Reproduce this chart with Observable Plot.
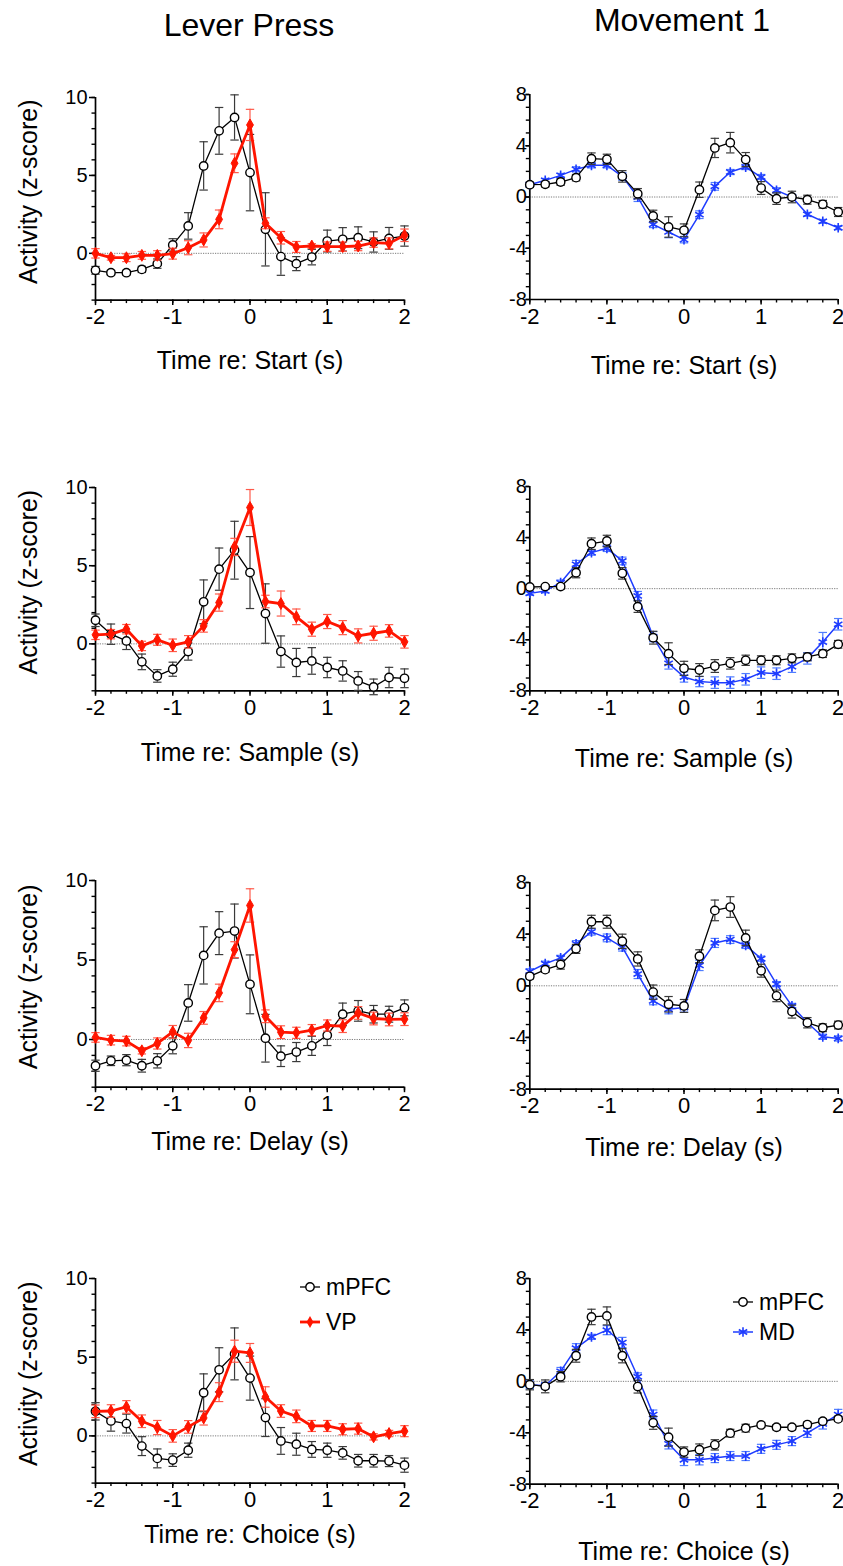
<!DOCTYPE html>
<html><head><meta charset="utf-8">
<script src="https://cdn.jsdelivr.net/npm/d3@7"></script>
<script src="https://cdn.jsdelivr.net/npm/@observablehq/plot@0.6"></script>
<style>
body{margin:0;background:#fff;}
#root{position:relative;width:843px;height:1566px;overflow:hidden;background:#fff;font-family:"Liberation Sans",Arial,sans-serif;color:#000;}
.title{position:absolute;font-size:32px;line-height:32px;white-space:nowrap;transform:translateX(-50%);}
.panel{position:absolute;}
.legend{position:absolute;font-size:23px;line-height:23px;white-space:nowrap;}
.legend .row{position:absolute;left:0;display:flex;align-items:center;}
.legend svg{overflow:visible;}
</style></head><body><div id="root"></div>
<script>
// ---------- data ----------
const times = [-2,-1.8,-1.6,-1.4,-1.2,-1,-0.8,-0.6,-0.4,-0.2,0,0.2,0.4,0.6,0.8,1,1.2,1.4,1.6,1.8,2];
const columnTitles = ["Lever Press", "Movement 1"];
const events = ["Start", "Sample", "Delay", "Choice"];
const yLabel = "Activity (z-score)";
const leftYTicks = [0, 5, 10];
const leftYMinor = [-3,-2,-1,0,1,2,3,4,5,6,7,8,9,10];
const rightYTicks = [-8, -4, 0, 4, 8];
const rightYMinor = [-8,-7,-6,-5,-4,-3,-2,-1,0,1,2,3,4,5,6,7,8];
const xTicks = [-2, -1, 0, 1, 2];
const xMinor = times;
const leftYDomain = [-3, 10];
const rightYDomain = [-8, 8];
const xDomain = [-2, 2];

// Lever Press – Start
const lpStartMPFC = [-1.09,-1.24,-1.24,-1.03,-0.66,0.54,1.76,5.61,7.86,8.72,5.18,1.54,-0.21,-0.66,-0.24,0.79,0.9,1.0,0.73,0.96,1.11];
const lpStartMPFCsem = [0.25,0.15,0.15,0.2,0.3,0.4,0.85,1.55,1.5,1.45,2.45,2.35,1.2,0.45,0.5,0.7,0.75,0.7,0.65,0.7,0.65];
const lpStartVP = [0.0,-0.28,-0.28,-0.13,-0.13,-0.02,0.36,0.86,2.18,5.78,8.24,1.93,1.0,0.41,0.47,0.43,0.43,0.47,0.69,0.64,1.16];
const lpStartVPsem = [0.3,0.15,0.25,0.25,0.3,0.35,0.45,0.45,0.6,0.6,1.0,0.35,0.4,0.35,0.15,0.3,0.3,0.3,0.3,0.35,0.4];
// Movement 1 – Start
const mvStartMPFC = [0.96,0.99,1.17,1.51,2.99,2.94,1.61,0.26,-1.48,-2.34,-2.6,0.57,3.83,4.24,2.92,0.7,-0.13,0.0,-0.21,-0.57,-1.17];
const mvStartMPFCsem = [0.2,0.2,0.25,0.25,0.45,0.4,0.45,0.4,0.45,0.8,0.5,0.6,0.75,0.8,0.55,0.5,0.45,0.45,0.35,0.3,0.35];
const mvStartMD = [0.96,1.3,1.69,2.16,2.47,2.47,1.61,0.0,-2.14,-2.73,-3.33,-1.38,0.83,1.95,2.34,1.56,0.52,0.0,-1.35,-1.9,-2.4];
const mvStartMDsem = [0.15,0.15,0.15,0.2,0.2,0.2,0.3,0.35,0.25,0.45,0.25,0.3,0.3,0.2,0.2,0.2,0.2,0.2,0.15,0.15,0.15];
// Lever Press – Sample
const lpSampleMPFC = [1.51,0.62,0.19,-1.15,-2.05,-1.62,-0.49,2.69,4.78,5.99,4.56,1.94,-0.49,-1.19,-1.09,-1.51,-1.73,-2.37,-2.75,-2.15,-2.2];
const lpSampleMPFCsem = [0.4,0.65,0.55,0.5,0.4,0.45,0.55,1.4,1.35,1.85,2.3,1.9,1.0,0.9,0.85,0.65,0.65,0.6,0.5,0.65,0.6];
const lpSampleVP = [0.58,0.62,0.94,-0.13,0.26,-0.09,0.13,1.15,2.64,6.2,8.72,2.71,2.58,1.73,0.94,1.43,1.04,0.51,0.68,0.83,0.13];
const lpSampleVPsem = [0.3,0.3,0.3,0.3,0.35,0.4,0.4,0.4,0.55,0.55,1.15,0.4,0.8,0.5,0.45,0.45,0.45,0.45,0.45,0.4,0.4];
// Movement 1 – Sample
const mvSampleMPFC = [0.13,0.16,0.16,1.25,3.52,3.73,1.2,-1.41,-3.84,-5.09,-6.24,-6.37,-6.06,-5.85,-5.61,-5.61,-5.61,-5.46,-5.35,-5.09,-4.36];
const mvSampleMPFCsem = [0.15,0.15,0.2,0.4,0.45,0.45,0.45,0.45,0.5,0.85,0.55,0.5,0.5,0.45,0.4,0.35,0.35,0.35,0.3,0.3,0.3];
const mvSampleMD = [-0.37,-0.18,0.47,1.91,2.82,3.16,2.17,-0.57,-3.76,-5.85,-6.92,-7.28,-7.36,-7.36,-7.1,-6.58,-6.66,-6.11,-5.46,-4.18,-2.79];
const mvSampleMDsem = [0.15,0.15,0.2,0.3,0.2,0.25,0.3,0.35,0.4,0.45,0.4,0.4,0.45,0.45,0.45,0.45,0.45,0.45,0.45,0.75,0.45];
// Lever Press – Delay
const lpDelayMPFC = [-1.65,-1.34,-1.3,-1.65,-1.34,-0.4,2.3,5.29,6.69,6.82,3.47,0.08,-1.05,-0.79,-0.4,0.27,1.59,1.8,1.59,1.59,1.99];
const lpDelayMPFCsem = [0.35,0.3,0.35,0.4,0.45,0.5,1.15,1.8,1.35,1.7,1.85,1.5,0.65,0.6,0.6,0.65,0.7,0.65,0.55,0.5,0.5];
const lpDelayVP = [0.13,-0.04,-0.1,-0.71,-0.25,0.48,-0.06,1.36,2.93,5.65,8.43,1.46,0.46,0.42,0.59,0.88,0.84,1.67,1.32,1.26,1.28];
const lpDelayVPsem = [0.3,0.3,0.3,0.2,0.35,0.4,0.45,0.4,0.55,0.5,1.05,0.4,0.4,0.35,0.35,0.35,0.4,0.4,0.4,0.4,0.4];
// Movement 1 – Delay
const mvDelayMPFC = [0.73,1.25,1.64,2.86,4.96,4.96,3.45,2.08,-0.49,-1.43,-1.56,2.29,5.84,6.1,3.71,1.17,-0.78,-2.0,-2.86,-3.25,-3.04];
const mvDelayMPFCsem = [0.2,0.2,0.35,0.35,0.5,0.5,0.55,0.55,0.55,0.6,0.5,0.5,0.8,0.8,0.6,0.5,0.45,0.5,0.4,0.3,0.3];
const mvDelayMD = [1.12,1.71,2.16,3.25,4.18,3.71,2.99,0.91,-1.17,-1.82,-1.69,1.58,3.32,3.58,3.14,2.1,0.13,-1.56,-2.86,-3.95,-4.08];
const mvDelayMDsem = [0.2,0.2,0.2,0.25,0.25,0.3,0.3,0.35,0.3,0.35,0.35,0.4,0.35,0.3,0.25,0.2,0.2,0.2,0.2,0.2,0.2];
// Lever Press – Choice
const lpChoiceMPFC = [1.56,0.95,0.78,-0.65,-1.43,-1.54,-0.91,2.74,4.2,5.21,3.67,1.16,-0.32,-0.53,-0.86,-0.91,-1.08,-1.58,-1.58,-1.6,-1.86];
const lpChoiceMPFCsem = [0.55,0.65,0.6,0.6,0.6,0.4,0.45,1.2,1.4,1.65,1.4,1.2,0.85,0.7,0.5,0.45,0.4,0.4,0.4,0.35,0.45];
const lpChoiceVP = [1.56,1.58,1.84,0.93,0.53,0.0,0.57,1.14,2.78,5.38,5.27,2.47,1.58,1.24,0.63,0.63,0.42,0.46,-0.06,0.15,0.3];
const lpChoiceVPsem = [0.4,0.4,0.4,0.4,0.45,0.4,0.4,0.45,0.6,0.7,0.6,0.65,0.4,0.4,0.35,0.35,0.35,0.35,0.2,0.2,0.35];
// Movement 1 – Choice
const mvChoiceMPFC = [-0.26,-0.39,0.36,1.99,5.01,5.09,1.99,-0.41,-3.23,-4.34,-5.5,-5.32,-4.94,-4.03,-3.64,-3.39,-3.57,-3.57,-3.36,-3.1,-2.92];
const mvChoiceMPFCsem = [0.4,0.5,0.4,0.5,0.6,0.7,0.55,0.5,0.5,0.7,0.4,0.45,0.4,0.3,0.3,0.2,0.2,0.2,0.2,0.2,0.2];
const mvChoiceMD = [-0.26,-0.34,0.78,2.58,3.46,3.98,3.02,0.36,-2.58,-4.86,-6.1,-6.1,-5.97,-5.81,-5.81,-5.25,-4.94,-4.65,-4.01,-3.31,-2.58];
const mvChoiceMDsem = [0.3,0.25,0.3,0.35,0.2,0.35,0.4,0.3,0.35,0.4,0.45,0.4,0.35,0.35,0.35,0.35,0.35,0.35,0.35,0.4,0.4];

const seriesNames = {mpfc: "mPFC", vp: "VP", md: "MD"};

// ---------- styles ----------
const cap = {draw(ctx, size) { const r = Math.sqrt(size / Math.PI); ctx.moveTo(-r, 0); ctx.lineTo(r, 0); }};
const styles = {
  mpfc: {color: "#000", err: "#3a3a3a", lw: 1.3, symbol: "circle", r: 4.2, fill: "#fff", sw: 1.4},
  vp:   {color: "#ff1500", err: "#ff5a4a", lw: 2.8, symbol: "diamond", r: 3.6, fill: "#ff1500", sw: 1},
  md:   {color: "#1e3cff", err: "#4f7dff", lw: 1.5, symbol: "asterisk", r: 4.6, fill: "none", sw: 1.6}
};

// layout (pixel geometry of each frame)
const cols = [
  {left: 0, width: 420, ml: 95, mr: 16, yDomain: leftYDomain, yTicks: leftYTicks, yMinor: leftYMinor, ySize: 6, yPad: 2, yLabel: true},
  {left: 420, width: 423, ml: 109.3, mr: 5.3, yDomain: rightYDomain, yTicks: rightYTicks, yMinor: rightYMinor, ySize: 4, yPad: -1, yLabel: false}
];
const rows = [
  [{top: 96.7, bottom: 299.3, xl: 61}, {top: 94.3, bottom: 299.3, xl: 66}],
  [{top: 486.7, bottom: 690, xl: 62}, {top: 485.7, bottom: 690, xl: 68}],
  [{top: 880, bottom: 1086.7, xl: 55}, {top: 881.7, bottom: 1088.3, xl: 59}],
  [{top: 1277.7, bottom: 1482.3, xl: 52}, {top: 1278.3, bottom: 1484, xl: 68}]
];
const panelSeries = [
  [[["mpfc", lpStartMPFC, lpStartMPFCsem], ["vp", lpStartVP, lpStartVPsem]], [["md", mvStartMD, mvStartMDsem], ["mpfc", mvStartMPFC, mvStartMPFCsem]]],
  [[["mpfc", lpSampleMPFC, lpSampleMPFCsem], ["vp", lpSampleVP, lpSampleVPsem]], [["md", mvSampleMD, mvSampleMDsem], ["mpfc", mvSampleMPFC, mvSampleMPFCsem]]],
  [[["mpfc", lpDelayMPFC, lpDelayMPFCsem], ["vp", lpDelayVP, lpDelayVPsem]], [["md", mvDelayMD, mvDelayMDsem], ["mpfc", mvDelayMPFC, mvDelayMPFCsem]]],
  [[["mpfc", lpChoiceMPFC, lpChoiceMPFCsem], ["vp", lpChoiceVP, lpChoiceVPsem]], [["md", mvChoiceMD, mvChoiceMDsem], ["mpfc", mvChoiceMPFC, mvChoiceMPFCsem]]]
];

function seriesMarks(key, vals, sems) {
  const s = styles[key];
  const data = times.map((t, i) => ({t, v: vals[i], lo: vals[i] - sems[i], hi: vals[i] + sems[i]}));
  return [
    Plot.ruleX(data, {x: "t", y1: "lo", y2: "hi", stroke: s.err, strokeWidth: 1.2}),
    Plot.dot(data, {x: "t", y: "lo", symbol: cap, r: 4.2, stroke: s.err, fill: "none", strokeWidth: 1.2}),
    Plot.dot(data, {x: "t", y: "hi", symbol: cap, r: 4.2, stroke: s.err, fill: "none", strokeWidth: 1.2}),
    Plot.line(data, {x: "t", y: "v", stroke: s.color, strokeWidth: s.lw}),
    Plot.dot(data, {x: "t", y: "v", symbol: s.symbol, r: s.r, stroke: s.color, fill: s.fill, strokeWidth: s.sw})
  ];
}

const root = document.getElementById("root");
const fmt = d => String(d);

rows.forEach((row, ri) => {
  row.forEach((g, ci) => {
    const c = cols[ci];
    const mt = 30, mb = 90;
    const h = (g.bottom - g.top) + mt + mb;
    const marks = [
      Plot.ruleY([0], {stroke: "#6d6d6d", strokeWidth: 0.9, strokeDasharray: "1.2,1.2"}),
      Plot.axisY({ticks: c.yMinor, tickSize: 3.5, tickFormat: () => "", label: null, strokeWidth: 1.4}),
      Plot.axisY({ticks: c.yTicks, tickSize: c.ySize, tickPadding: c.yPad, tickFormat: fmt, label: null, fontSize: 20, strokeWidth: 1.5}),
      Plot.axisX({ticks: xMinor, tickSize: 3.5, tickFormat: () => "", label: null, strokeWidth: 1.4}),
      Plot.axisX({ticks: xTicks, tickSize: 5.5, tickPadding: 3, tickFormat: fmt, label: null, fontSize: 22, strokeWidth: 1.5}),
      Plot.ruleX([xDomain[0]], {stroke: "#000", strokeWidth: 1.7}),
      Plot.ruleY([c.yDomain[0]], {stroke: "#000", strokeWidth: 1.7}),
      Plot.text(["Time re: " + events[ri] + " (s)"], {frameAnchor: "bottom", dy: g.xl, text: d => d, fontSize: 25, lineAnchor: "middle", fill: "#000"})
    ];
    if (c.yLabel) marks.push(Plot.text([yLabel], {frameAnchor: "left", rotate: -90, dx: -67, dy: -7, text: d => d, fontSize: 25, textAnchor: "middle", lineAnchor: "middle", fill: "#000"}));
    panelSeries[ri][ci].forEach(([k, v, e]) => marks.push(...seriesMarks(k, v, e)));
    const svg = Plot.plot({
      width: c.width, height: h,
      marginLeft: c.ml, marginRight: c.mr, marginTop: mt, marginBottom: mb,
      x: {domain: xDomain},
      y: {domain: c.yDomain},
      style: {fontFamily: '"Liberation Sans", Arial, sans-serif', background: "transparent", overflow: "visible", color: "#000"},
      marks
    });
    const wrap = document.createElement("div");
    wrap.className = "panel";
    wrap.style.left = c.left + "px";
    wrap.style.top = (g.top - mt) + "px";
    wrap.appendChild(svg);
    root.appendChild(wrap);
  });
});

// titles
[[columnTitles[0], 249, 9], [columnTitles[1], 682, 4]].forEach(([t, x, y]) => {
  const d = document.createElement("div");
  d.className = "title"; d.textContent = t; d.style.left = x + "px"; d.style.top = y + "px";
  root.appendChild(d);
});

// legends
function legend(x, y, items, gap) {
  const L = document.createElement("div");
  L.className = "legend"; L.style.left = x + "px"; L.style.top = y + "px";
  items.forEach((k, i) => {
    const s = styles[k];
    const r = document.createElement("div");
    r.className = "row"; r.style.top = (i * gap) + "px";
    let sym;
    if (k === "mpfc") sym = `<circle cx="10" cy="0" r="4.2" fill="#fff" stroke="${s.color}" stroke-width="1.4"/>`;
    else if (k === "vp") sym = `<path d="${d3.symbol(d3.symbolDiamond, 3.6*3.6*Math.PI)()}" transform="translate(10,0)" fill="${s.color}"/>`;
    else sym = `<path d="${d3.symbol(d3.symbolAsterisk, 4.6*4.6*Math.PI)()}" transform="translate(10,0)" fill="none" stroke="${s.color}" stroke-width="1.6"/>`;
    r.innerHTML = `<svg width="22" height="24" viewBox="0 -12 22 24"><line x1="0" x2="20" y1="0" y2="0" stroke="${s.color}" stroke-width="${s.lw}"/>${sym}</svg><span style="margin-left:4px">${seriesNames[k]}</span>`;
    L.appendChild(r);
  });
  root.appendChild(L);
}
legend(300, 1275, ["mpfc", "vp"], 35);
legend(733, 1290, ["mpfc", "md"], 30);
</script>
</body></html>
